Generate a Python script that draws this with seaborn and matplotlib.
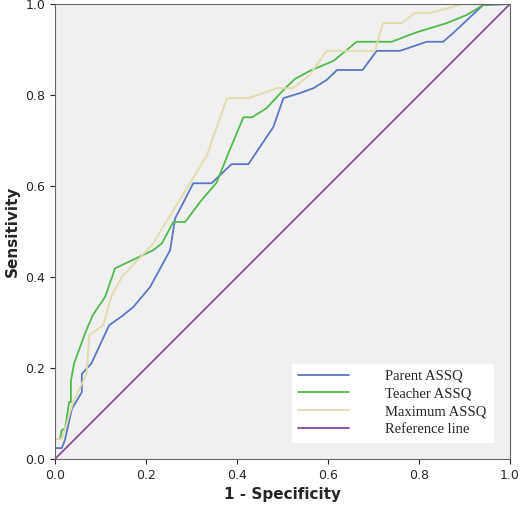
import matplotlib
matplotlib.use("Agg")
import matplotlib.pyplot as plt
import seaborn as sns
import pandas as pd

parent_x = [0, 0.015, 0.022, 0.037, 0.059, 0.059, 0.08, 0.119, 0.15, 0.172, 0.209, 0.253, 0.264, 0.304, 0.344, 0.388, 0.425, 0.48, 0.502, 0.538, 0.568, 0.597, 0.62, 0.676, 0.707, 0.758, 0.817, 0.853, 0.876, 0.941, 1.0]
parent_y = [0.024, 0.024, 0.042, 0.11, 0.147, 0.187, 0.21, 0.294, 0.316, 0.334, 0.378, 0.459, 0.529, 0.606, 0.606, 0.648, 0.648, 0.73, 0.793, 0.804, 0.815, 0.833, 0.855, 0.855, 0.897, 0.897, 0.917, 0.917, 0.937, 0.998, 1.0]
teacher_x = [0, 0.011, 0.015, 0.022, 0.031, 0.035, 0.035, 0.042, 0.066, 0.083, 0.11, 0.132, 0.216, 0.235, 0.26, 0.286, 0.322, 0.355, 0.381, 0.414, 0.433, 0.465, 0.502, 0.527, 0.56, 0.612, 0.663, 0.74, 0.795, 0.861, 0.905, 0.941, 1.0]
teacher_y = [0.044, 0.044, 0.064, 0.066, 0.125, 0.125, 0.172, 0.21, 0.276, 0.316, 0.356, 0.419, 0.459, 0.474, 0.521, 0.521, 0.569, 0.607, 0.672, 0.751, 0.751, 0.771, 0.811, 0.835, 0.853, 0.875, 0.917, 0.917, 0.938, 0.958, 0.976, 0.998, 1.0]
max_x = [0, 0.015, 0.026, 0.04, 0.07, 0.075, 0.106, 0.125, 0.147, 0.213, 0.29, 0.334, 0.378, 0.425, 0.488, 0.523, 0.56, 0.597, 0.703, 0.721, 0.762, 0.791, 0.824, 0.897, 1.0]
max_y = [0.044, 0.044, 0.079, 0.125, 0.189, 0.272, 0.294, 0.36, 0.4, 0.47, 0.595, 0.668, 0.793, 0.793, 0.815, 0.815, 0.844, 0.897, 0.897, 0.958, 0.958, 0.98, 0.98, 1.0, 1.0]
ref_x = [0, 1]
ref_y = [0, 1]

series = [("Parent ASSQ", parent_x, parent_y, "#5878c4"),
          ("Teacher ASSQ", teacher_x, teacher_y, "#4fbb4a"),
          ("Maximum ASSQ", max_x, max_y, "#e2dbaa"),
          ("Reference line", ref_x, ref_y, "#8e4a9a")]

sns.set_style("ticks")
fig = plt.figure(figsize=(5.2, 5.15), dpi=100)
ax = fig.add_axes([55/520, 56/515, 455/520, 455/515])
ax.set_facecolor("#f0f0f0")
for name, xs, ys, c in series:
    df = pd.DataFrame({"x": xs, "y": ys})
    sns.lineplot(data=df, x="x", y="y", sort=False, estimator=None, ax=ax, color=c, lw=1.3, label=name)
ax.set_xlim(0, 1)
ax.set_ylim(0, 1)
ax.set_xticks([0, 0.2, 0.4, 0.6, 0.8, 1.0])
ax.set_yticks([0, 0.2, 0.4, 0.6, 0.8, 1.0])
ax.set_xticklabels([f"{v:.1f}" for v in ax.get_xticks()], fontsize=9)
ax.set_yticklabels([f"{v:.1f}" for v in ax.get_yticks()], fontsize=9)
ax.set_xlabel("1 - Specificity", fontsize=11, fontweight="bold")
ax.set_ylabel("Sensitivity", fontsize=11, fontweight="bold")
for s in ax.spines.values():
    s.set_color("#666666")
leg = ax.legend(loc="lower right", frameon=True, fancybox=False, framealpha=1,
                edgecolor="white", prop={"family": "Liberation Serif", "size": 10.5},
                borderaxespad=1.2, handlelength=3.5, handletextpad=2.5, labelspacing=0.3)
fig.savefig("out.png", dpi=100)
